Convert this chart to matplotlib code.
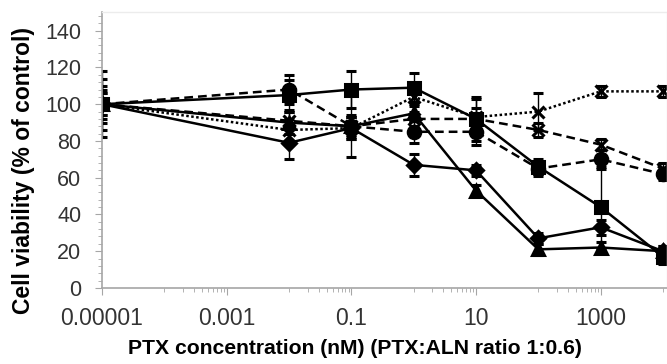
import numpy as np
import matplotlib
matplotlib.use("Agg")
import matplotlib.pyplot as plt
from matplotlib.ticker import FixedLocator, NullFormatter

plt.rcParams["font.family"] = ["Liberation Sans", "DejaVu Sans"]

# PTX concentration (nM); 1e-5 stands for the untreated control
conc = [1e-5, 0.01, 0.1, 1, 10, 100, 1000, 10000]

sq_vals = [100, 105, 108, 109, 92, 66, 44, 17]
sq_err = [14, 8, 10, 8, 12, 4, 22, 4]
dia_vals = [100, 79, 87, 67, 64, 27, 33, 20]
dia_err = [8, 9, 6, 6, 3, 3, 4, 3]
tri_vals = [100, 90, 88, 95, 53, 21, 22, 20]
tri_err = [10, 6, 17, 4, 3, 3, 3, 3]
circ_vals = [100, 108, 88, 85, 85, 65, 70, 62]
circ_err = [6, 8, 5, 6, 7, 4, 5, 3]
xdash_vals = [100, 91, 88, 92, 92, 86, 78, 65]
xdash_err = [6, 5, 6, 4, 6, 4, 3, 3]
xdot_vals = [100, 86, 87, 104, 93, 96, 107, 107]
xdot_err = [18, 6, 6, 4, 10, 10, 3, 3]

x_major = [1e-5, 1e-3, 0.1, 10, 1000]
x_labels = ["0.00001", "0.001", "0.1", "10", "1000"]
y_major = list(range(0, 141, 20))

fig = plt.figure(figsize=(6.67, 3.64), dpi=100)
ax = fig.add_axes([0.153, 0.209, 0.847, 0.757])

series = [
    (sq_vals, sq_err, "s", "-", 8.5),
    (dia_vals, dia_err, "D", "-", 7),
    (tri_vals, tri_err, "^", "-", 8.5),
    (circ_vals, circ_err, "o", (0, (3.5, 2)), 9),
    (xdash_vals, xdash_err, "x", (0, (3.5, 2)), 8),
    (xdot_vals, xdot_err, "x", (0, (1, 1)), 8),
]
for vals, err, mk, ls, ms in series:
    ax.errorbar(conc, vals, yerr=err, color="black", ecolor="black",
                elinewidth=1, capsize=3.5, capthick=1,
                marker=mk, ms=ms, mew=2.2, linestyle=ls, lw=1.8)

ax.set_xscale("log")
ax.set_xlim(1e-5, 10 ** (4 + 4 / 62.5))
ax.set_ylim(0, 150)

ax.xaxis.set_major_locator(FixedLocator(x_major))
ax.set_xticklabels(x_labels)
minors = [k * 10.0 ** e for e in (-5, -3, -1, 1, 3) for k in range(10, 100, 10)]
ax.xaxis.set_minor_locator(FixedLocator(minors))
ax.xaxis.set_minor_formatter(NullFormatter())
ax.set_yticks(y_major)
ax.yaxis.set_minor_locator(FixedLocator(list(range(0, 151, 4))))

grey = "#a6a6a6"
for s in ("left", "bottom"):
    ax.spines[s].set_color(grey)
    ax.spines[s].set_linewidth(1.2)
for s in ("top", "right"):
    ax.spines[s].set_color("#ececec")
    ax.spines[s].set_linewidth(1)

ax.tick_params(which="major", direction="out", length=5, color=grey,
               labelcolor="#333333", pad=10)
ax.tick_params(axis="y", which="major", labelsize=15.5)
ax.tick_params(axis="x", which="major", labelsize=16.5, pad=9)
ax.tick_params(which="minor", direction="out", length=3, color=grey)

fig.text(24 / 667, 1 - 170 / 364, "Cell viability (% of control)",
         rotation=90, ha="center", va="center", fontsize=16.5, fontweight="bold")
fig.text(355 / 667, 1 - 348 / 364, "PTX concentration (nM) (PTX:ALN ratio 1:0.6)",
         ha="center", va="center", fontsize=15.2, fontweight="bold")

fig.savefig("out.png", dpi=100)
